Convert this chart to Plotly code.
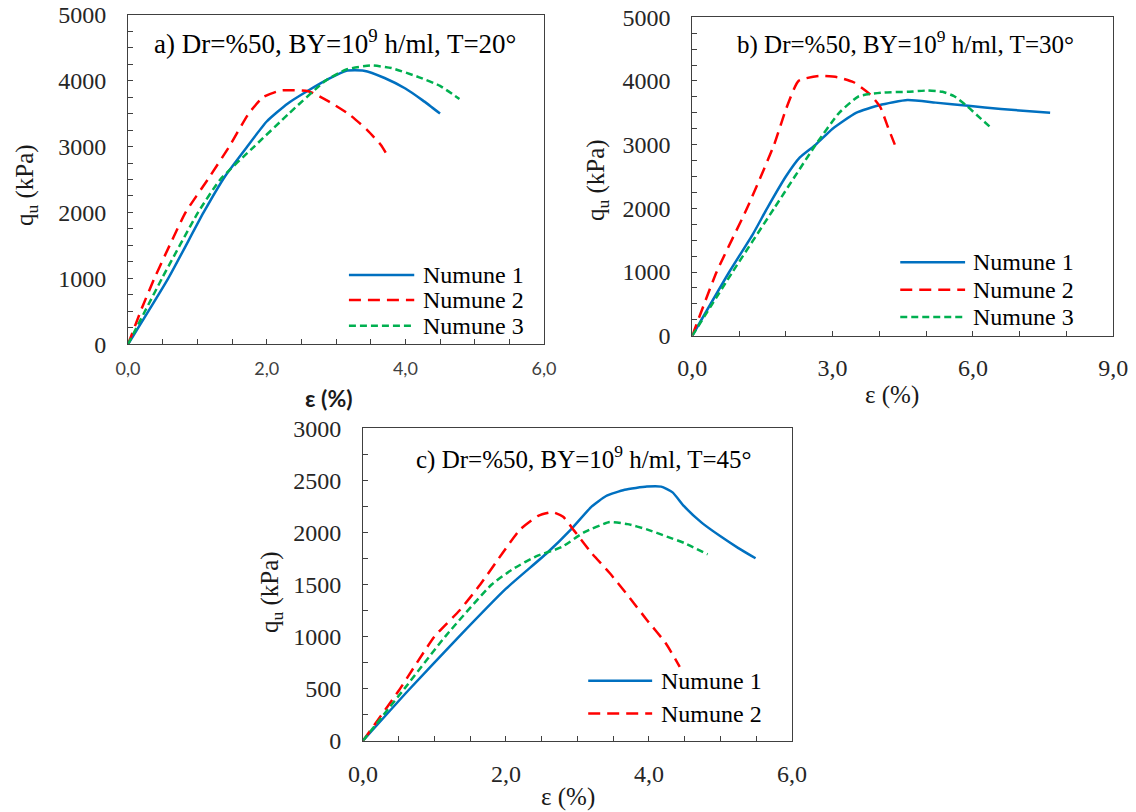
import plotly.graph_objects as go

# ---- Panel a: Dr=%50, T=20° ----
a_eps1 = [0, 0.58, 1.09, 1.4, 1.72, 2.0, 2.3, 2.6, 2.9, 3.15, 3.4, 3.7, 4.0, 4.25, 4.5]
a_q1 = [0, 1000, 2000, 2550, 3000, 3380, 3650, 3850, 4030, 4150, 4150, 4040, 3880, 3700, 3500]
a_eps2 = [0, 0.2, 0.38, 0.6, 0.83, 1.15, 1.46, 1.74, 1.95, 2.2, 2.6, 2.9, 3.2, 3.45, 3.65, 3.76]
a_q2 = [0, 550, 1000, 1500, 2000, 2500, 3000, 3500, 3750, 3850, 3840, 3680, 3480, 3250, 3020, 2830]
a_eps3 = [0, 0.49, 1.01, 1.33, 1.82, 2.32, 2.85, 3.15, 3.5, 3.8, 4.2, 4.5, 4.78]
a_q3 = [0, 1000, 2000, 2500, 3000, 3500, 4000, 4170, 4230, 4190, 4050, 3920, 3720]

# ---- Panel b: Dr=%50, T=30° ----
b_eps1 = [0, 0.79, 1.3, 1.6, 2.0, 2.3, 2.64, 3.0, 3.5, 4.0, 4.6, 5.2, 5.9, 6.6, 7.65]
b_q1 = [0, 1000, 1600, 2000, 2500, 2800, 3000, 3250, 3500, 3620, 3700, 3660, 3610, 3560, 3500]
b_eps2 = [0, 0.52, 1.17, 1.75, 2.0, 2.27, 2.7, 3.1, 3.45, 3.8, 4.02, 4.18, 4.33]
b_q2 = [0, 1000, 2000, 3000, 3550, 4000, 4080, 4060, 3980, 3790, 3590, 3280, 3000]
b_eps3 = [0, 0.86, 1.75, 2.64, 3.14, 3.56, 4.1, 4.6, 5.03, 5.35, 5.6, 5.88, 6.15, 6.41]
b_q3 = [0, 1000, 2000, 3000, 3500, 3760, 3820, 3830, 3850, 3830, 3760, 3600, 3420, 3250]

# ---- Panel c: Dr=%50, T=45° ----
c_eps1 = [0, 0.63, 1.33, 2.0, 2.57, 2.91, 3.2, 3.4, 3.66, 3.97, 4.17, 4.33, 4.49, 4.74, 5.0, 5.25, 5.49]
c_q1 = [0, 480, 990, 1460, 1800, 2030, 2250, 2350, 2410, 2441, 2440, 2385, 2252, 2092, 1963, 1850, 1752]
c_eps2 = [0, 0.5, 1.0, 1.35, 1.64, 1.95, 2.2, 2.45, 2.65, 2.8, 2.95, 3.2, 3.45, 3.71, 3.97, 4.23, 4.43]
c_q2 = [0, 480, 1000, 1250, 1500, 1800, 2030, 2160, 2195, 2150, 2020, 1800, 1610, 1390, 1160, 940, 710]
c_eps3 = [0, 0.58, 1.15, 1.8, 2.1, 2.42, 2.78, 3.09, 3.45, 3.7, 3.97, 4.25, 4.49, 4.82]
c_q3 = [0, 500, 1000, 1500, 1650, 1770, 1860, 2000, 2100, 2080, 2030, 1960, 1900, 1790]

series_names = ["Numune 1", "Numune 2", "Numune 3"]
colors = ["#0070C0", "#FF0000", "#00B050"]
dashes = ["solid", "12px,7px", "7px,4px"]

SERIF = "Liberation Serif"
SANS = "Lato"
FRAME = "#404040"

panels = [
    dict(ax="", data=[(a_eps1, a_q1), (a_eps2, a_q2), (a_eps3, a_q3)]),
    dict(ax="2", data=[(b_eps1, b_q1), (b_eps2, b_q2), (b_eps3, b_q3)]),
    dict(ax="3", data=[(c_eps1, c_q1), (c_eps2, c_q2), (c_eps3, c_q3)]),
]

fig = go.Figure()
for p in panels:
    for i, (xs, ys) in enumerate(p["data"]):
        fig.add_trace(go.Scatter(
            x=xs, y=ys, mode="lines", name=series_names[i], showlegend=False,
            line=dict(color=colors[i], width=2.5, dash=dashes[i],
                      shape="spline", smoothing=0.5),
            xaxis="x" + p["ax"], yaxis="y" + p["ax"],
        ))


def axis(domain, rng, dtick, minor, anchor, fmt, font, standoff):
    return dict(
        domain=domain, range=rng, dtick=dtick, tick0=0, anchor=anchor,
        showline=True, linecolor=FRAME, linewidth=1, mirror=True,
        ticks="inside", ticklen=5, tickcolor=FRAME, tickwidth=1,
        minor=dict(ticks="inside", ticklen=5, dtick=minor, tickcolor=FRAME, tickwidth=1),
        showgrid=False, zeroline=False, tickformat=fmt, tickfont=font,
        ticklabelstandoff=standoff, automargin=False,
    )


serif_ticks = dict(family=SERIF, size=24, color="#262626")
sans_ticks = dict(family=SANS, size=18, color="#404040")

fig.update_layout(
    width=1136, height=812,
    margin=dict(l=0, r=0, t=0, b=0, pad=0, autoexpand=False),
    paper_bgcolor="white", plot_bgcolor="white",
    separators=",.",
    showlegend=False,
    xaxis=axis([0.1127, 0.4789], [0, 6], 2, 0.5, "y", ".1f", sans_ticks, 8),
    yaxis=axis([0.5760, 0.9819], [0, 5000], 1000, 250, "x", "d", serif_ticks, 16),
    xaxis2=axis([0.6094, 0.9800], [0, 9], 3, 1, "y2", ".1f", serif_ticks, 11),
    yaxis2=axis([0.5866, 0.9787], [0, 5000], 1000, 250, "x2", "d", serif_ticks, 16),
    xaxis3=axis([0.3195, 0.6972], [0, 6], 2, 0.5, "y3", ".1f", serif_ticks, 11),
    yaxis3=axis([0.0878, 0.4725], [0, 3000], 500, 250, "x3", "d", serif_ticks, 16),
)

annotations = []
shapes = []

# panel titles inside each plot area
titles = [
    ("", "a) Dr=%50, BY=10<sup>9</sup> h/ml, T=20°", 0.498, 0.917, 27),
    ("2", "b) Dr=%50, BY=10<sup>9</sup> h/ml, T=30°", 0.506, 0.922, 25),
    ("3", "c) Dr=%50, BY=10<sup>9</sup> h/ml, T=45°", 0.515, 0.908, 25),
]
for ax, txt, x, y, size in titles:
    annotations.append(dict(
        text=txt, x=x, y=y, xref=f"x{ax} domain", yref=f"y{ax} domain",
        xanchor="center", yanchor="middle", showarrow=False,
        font=dict(family=SERIF, size=size, color="#000"),
    ))

# axis titles (paper coordinates)
title_font = dict(family=SERIF, size=25, color="#1a1a1a")
axis_titles = [
    ("<b>ε (%)</b>", 329, 398, 0, dict(family=SANS, size=23, color="#1a1a1a")),
    ("q<sub>u</sub> (kPa)", 27, 185, -90, title_font),
    ("ε (%)", 892, 395, 0, title_font),
    ("q<sub>u</sub> (kPa)", 597, 180, -90, title_font),
    ("ε (%)", 568, 797, 0, title_font),
    ("q<sub>u</sub> (kPa)", 271, 592, -90, title_font),
]
for txt, px, py, ang, font in axis_titles:
    annotations.append(dict(
        text=txt, x=px / 1136, y=1 - py / 812, xref="paper", yref="paper",
        textangle=ang, xanchor="center", yanchor="middle", showarrow=False,
        font=font,
    ))

# legends drawn in each panel's domain coordinates
legends = [
    ("", 3, 0.531, 0.688, 0.704, [0.210, 0.134, 0.056]),
    ("2", 3, 0.494, 0.648, 0.663, [0.231, 0.144, 0.059]),
    ("3", 2, 0.525, 0.674, 0.690, [0.192, 0.087]),
]
for ax, n, x0, x1, xt, rows in legends:
    for i in range(n):
        shapes.append(dict(
            type="line", xref=f"x{ax} domain", yref=f"y{ax} domain",
            x0=x0, x1=x1, y0=rows[i], y1=rows[i],
            line=dict(color=colors[i], width=2.5, dash=dashes[i]),
        ))
        annotations.append(dict(
            text=series_names[i], x=xt, y=rows[i],
            xref=f"x{ax} domain", yref=f"y{ax} domain",
            xanchor="left", yanchor="middle", showarrow=False,
            font=dict(family=SERIF, size=24, color="#000"),
        ))

fig.update_layout(annotations=annotations, shapes=shapes)
fig.write_html("out.html")
